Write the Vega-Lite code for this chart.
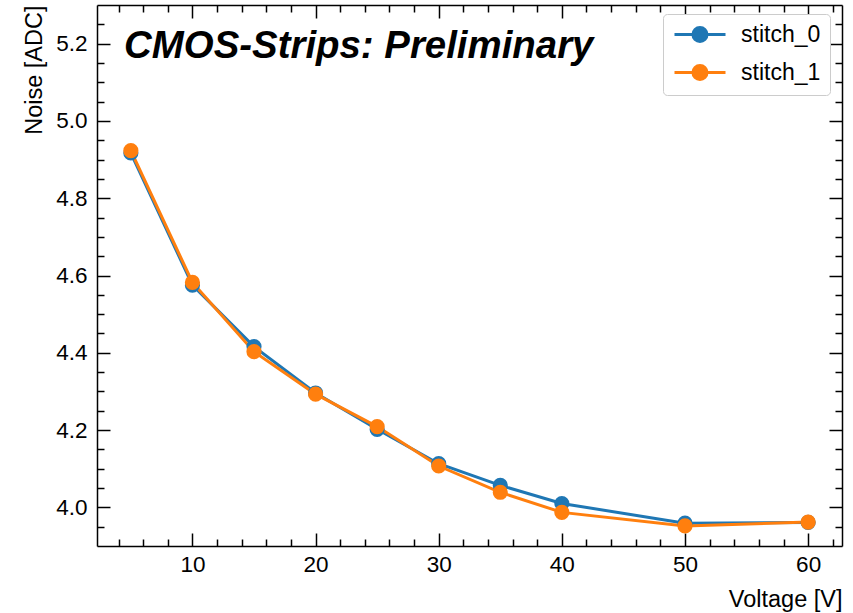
{
  "$schema": "https://vega.github.io/schema/vega-lite/v6.json",
  "width": 745,
  "height": 541,
  "autosize": "none",
  "padding": {"left": 97, "top": 5, "right": 11, "bottom": 67},
  "background": "white",
  "config": {
    "font": "Liberation Sans",
    "view": {"stroke": null},
    "axis": {
      "domainColor": "black",
      "domainWidth": 1.5,
      "tickColor": "black",
      "tickWidth": 1.5,
      "labelColor": "black",
      "labelFontSize": 22.5,
      "labelFont": "Liberation Sans",
      "titleColor": "black",
      "titleFont": "Liberation Sans",
      "titleFontSize": 23.5,
      "titleFontWeight": "normal",
      "grid": false
    }
  },
  "data": {
    "values": [
      {"voltage": 5, "noise": 4.917, "series": "stitch_0"},
      {"voltage": 10, "noise": 4.575, "series": "stitch_0"},
      {"voltage": 15, "noise": 4.416, "series": "stitch_0"},
      {"voltage": 20, "noise": 4.296, "series": "stitch_0"},
      {"voltage": 25, "noise": 4.202, "series": "stitch_0"},
      {"voltage": 30, "noise": 4.113, "series": "stitch_0"},
      {"voltage": 35, "noise": 4.057, "series": "stitch_0"},
      {"voltage": 40, "noise": 4.010, "series": "stitch_0"},
      {"voltage": 50, "noise": 3.959, "series": "stitch_0"},
      {"voltage": 60, "noise": 3.961, "series": "stitch_0"},
      {"voltage": 5, "noise": 4.923, "series": "stitch_1"},
      {"voltage": 10, "noise": 4.582, "series": "stitch_1"},
      {"voltage": 15, "noise": 4.403, "series": "stitch_1"},
      {"voltage": 20, "noise": 4.293, "series": "stitch_1"},
      {"voltage": 25, "noise": 4.209, "series": "stitch_1"},
      {"voltage": 30, "noise": 4.107, "series": "stitch_1"},
      {"voltage": 35, "noise": 4.039, "series": "stitch_1"},
      {"voltage": 40, "noise": 3.987, "series": "stitch_1"},
      {"voltage": 50, "noise": 3.952, "series": "stitch_1"},
      {"voltage": 60, "noise": 3.962, "series": "stitch_1"}
    ]
  },
  "layer": [
    {
      "mark": {"type": "line", "strokeWidth": 3, "point": {"filled": true, "size": 230, "opacity": 1}},
      "encoding": {
        "x": {
          "field": "voltage", "type": "quantitative",
          "scale": {"domain": [2.25, 62.75], "nice": false, "zero": false},
          "axis": {"orient": "bottom", "values": [10, 20, 30, 40, 50, 60], "tickSize": -13, "labelPadding": 20, "title": "Voltage [V]", "titleAnchor": "end", "titlePadding": 12}
        },
        "y": {
          "field": "noise", "type": "quantitative",
          "scale": {"domain": [3.9, 5.3], "nice": false, "zero": false},
          "axis": {"orient": "left", "values": [4.0, 4.2, 4.4, 4.6, 4.8, 5.0, 5.2], "format": ".1f", "tickSize": -13, "labelPadding": 23, "title": "Noise [ADC]", "titleAnchor": "end", "titlePadding": 9}
        },
        "color": {
          "field": "series", "type": "nominal",
          "scale": {"domain": ["stitch_0", "stitch_1"], "range": ["#1f77b4", "#ff7f0e"]},
          "legend": {
            "title": null,
            "orient": "none",
            "legendX": 566,
            "legendY": 9,
            "padding": 9,
            "fillColor": "white",
            "strokeColor": "#cccccc",
            "cornerRadius": 4,
            "labelFontSize": 23,
            "labelColor": "black",
            "labelFont": "Liberation Sans",
            "labelOffset": 46,
            "rowPadding": 11,
            "symbolType": "M-1,0H4.667M2.61,0A0.78,0.78,0,1,1,1.05,0A0.78,0.78,0,1,1,2.61,0",
            "symbolSize": 324,
            "symbolStrokeWidth": 3,
            "encode": {"symbols": {"update": {"fill": {"scale": "color", "field": "value"}, "opacity": {"value": 1}}}}
          }
        }
      }
    },
    {
      "mark": {"type": "point", "opacity": 0},
      "encoding": {
        "x": {"field": "voltage", "type": "quantitative", "axis": {"orient": "bottom", "values": [4, 6, 8, 12, 14, 16, 18, 22, 24, 26, 28, 32, 34, 36, 38, 42, 44, 46, 48, 52, 54, 56, 58, 62], "tickSize": -7, "labels": false, "domain": false, "title": null}},
        "y": {"field": "noise", "type": "quantitative", "axis": {"orient": "left", "values": [3.95, 4.05, 4.1, 4.15, 4.25, 4.3, 4.35, 4.45, 4.5, 4.55, 4.65, 4.7, 4.75, 4.85, 4.9, 4.95, 5.05, 5.1, 5.15, 5.25], "tickSize": -7, "labels": false, "domain": false, "title": null}}
      }
    },
    {
      "mark": {"type": "point", "opacity": 0},
      "encoding": {
        "x": {"field": "voltage", "type": "quantitative", "axis": {"orient": "top", "values": [10, 20, 30, 40, 50, 60], "tickSize": -13, "labels": false, "domain": true, "title": null}},
        "y": {"field": "noise", "type": "quantitative", "axis": {"orient": "right", "values": [4.0, 4.2, 4.4, 4.6, 4.8, 5.0, 5.2], "tickSize": -13, "labels": false, "domain": true, "title": null}}
      }
    },
    {
      "mark": {"type": "point", "opacity": 0},
      "encoding": {
        "x": {"field": "voltage", "type": "quantitative", "axis": {"orient": "top", "values": [4, 6, 8, 12, 14, 16, 18, 22, 24, 26, 28, 32, 34, 36, 38, 42, 44, 46, 48, 52, 54, 56, 58, 62], "tickSize": -7, "labels": false, "domain": false, "title": null}},
        "y": {"field": "noise", "type": "quantitative", "axis": {"orient": "right", "values": [3.95, 4.05, 4.1, 4.15, 4.25, 4.3, 4.35, 4.45, 4.5, 4.55, 4.65, 4.7, 4.75, 4.85, 4.9, 4.95, 5.05, 5.1, 5.15, 5.25], "tickSize": -7, "labels": false, "domain": false, "title": null}}
      }
    },
    {
      "data": {"values": [{"label": "CMOS-Strips: Preliminary"}]},
      "mark": {"type": "text", "font": "Liberation Sans", "fontSize": 38.4, "fontWeight": "bold", "fontStyle": "italic", "align": "left", "baseline": "alphabetic", "color": "black"},
      "encoding": {
        "x": {"datum": 4.45, "type": "quantitative", "axis": null},
        "y": {"datum": 5.163, "type": "quantitative", "axis": null},
        "text": {"field": "label", "type": "nominal"}
      }
    }
  ],
  "resolve": {"axis": {"x": "independent", "y": "independent"}}
}
